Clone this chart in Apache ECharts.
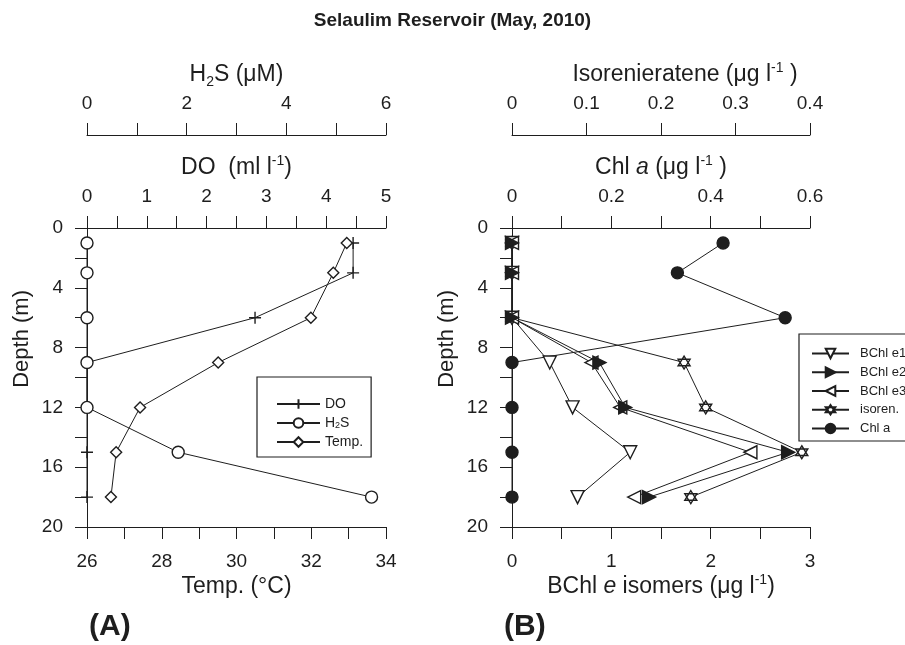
<!DOCTYPE html>
<html><head><meta charset="utf-8">
<script src="https://cdn.jsdelivr.net/npm/echarts@6/dist/echarts.min.js"></script>
<style>html,body{margin:0;padding:0;background:#fff}#c{width:905px;height:645px}</style>
</head><body><div id="c"></div>
<script>
// ---- data (depth in m) ----
const depths   = [1, 3, 6, 9, 12, 15, 18];
const doVals   = [4.45, 4.45, 2.81, 0, 0, 0, 0];           // ml/l
const h2sVals  = [0, 0, 0, 0, 0, 1.83, 5.71];              // uM
const tempVals = [32.95, 32.59, 31.99, 29.51, 27.42, 26.78, 26.64]; // deg C
const bchlE1   = [0, 0, 0, 0.38, 0.61, 1.19, 0.66];        // ug/l
const bchlE2   = [0, 0, 0, 0.88, 1.14, 2.78, 1.38];
const bchlE3   = [0, 0, 0, 0.80, 1.09, 2.40, 1.23];
const isoren   = [0, 0, 0, 0.231, 0.260, 0.389, 0.240];    // ug/l
const chlA     = [0.425, 0.333, 0.550, 0, 0, 0, 0];        // ug/l

const FONT = '"Liberation Sans", Arial, sans-serif';
const C = '#1e1e1e';

function pairs(vals){ return vals.map((v,i)=>[v, depths[i]]); }
function isMult(v, step){ const r = v/step; return Math.abs(r-Math.round(r)) < 1e-6; }
function fmt(v){ return String(Math.round(v*1000)/1000); }
function labF(step, base){ base = base||0; return v => isMult(v-base, step) ? fmt(v) : ''; }

const rich = {
  n:   {fontSize:23, fontFamily:FONT, color:C, lineHeight:28},
  i:   {fontSize:23, fontFamily:FONT, color:C, lineHeight:28, fontStyle:'italic'},
  sup: {fontSize:14, fontFamily:FONT, color:C, lineHeight:12, verticalAlign:'top'},
  sub: {fontSize:14, fontFamily:FONT, color:C, lineHeight:9, verticalAlign:'bottom'}
};

function xAx(o){
  const top = o.position === 'top';
  return {
    type:'value', gridIndex:o.grid, position:o.position, offset:o.offset||0,
    min:o.min, max:o.max, interval:o.interval,
    axisLine:{show:true, onZero:false, lineStyle:{color:C, width:1}},
    axisTick:{show:true, length:12, lineStyle:{color:C, width:1}},
    splitLine:{show:false},
    axisLabel:{color:C, fontSize:19, fontFamily:FONT, margin: top ? 22 : 25, formatter:o.fmt},
    name:o.name, nameLocation:'middle', nameGap:o.nameGap || 46,
    nameTextStyle:{color:C, fontSize:23, fontFamily:FONT, rich:rich, padding:o.namePad||0}
  };
}
function yAx(g){
  return {
    type:'value', gridIndex:g, inverse:true, min:0, max:20, interval:2,
    axisLine:{show:true, onZero:false, lineStyle:{color:C, width:1}},
    axisTick:{show:true, length:12, lineStyle:{color:C, width:1}},
    splitLine:{show:false},
    axisLabel:{color:C, fontSize:19, fontFamily:FONT, margin:24, formatter:labF(4)}
  };
}

const PLUS = 'path://M0,6L12,6M6,0L6,12';
const STAR = 'path://M6,0L11.196,9L0.804,9ZM6,12L0.804,3L11.196,3Z';

function ser(name, vals, xi, yi, sym, size, filled, rot, z){
  return {
    type:'line', name:name, xAxisIndex:xi, yAxisIndex:yi, data:pairs(vals),
    symbol:sym, symbolSize:size, symbolRotate:rot||0, showSymbol:true, clip:false,
    lineStyle:{color:C, width:1},
    itemStyle:{color: filled ? C : '#fff', borderColor:C, borderWidth:1.4},
    emphasis:{disabled:true}, z: z || 3
  };
}

const legendText = {color:C, fontSize:14, fontFamily:FONT,
  rich:{n:{fontSize:14, fontFamily:FONT, color:C}, s:{fontSize:9, fontFamily:FONT, color:C, lineHeight:6, verticalAlign:'bottom'}}};

const option = {
  animation:false,
  backgroundColor:'#fff',
  title:[
    {text:'Selaulim Reservoir (May, 2010)', left:'center', top:11, padding:0,
     textStyle:{fontSize:19, fontWeight:'bold', fontFamily:FONT, color:C}},
    {text:'(A)', left:89, top:612, padding:0, textStyle:{fontSize:30, fontWeight:'bold', fontFamily:FONT, color:C}},
    {text:'(B)', left:504, top:612, padding:0, textStyle:{fontSize:30, fontWeight:'bold', fontFamily:FONT, color:C}}
  ],
  grid:[
    {left:87, top:228, width:299, height:299, containLabel:false},
    {left:512, top:228, width:298, height:299, containLabel:false}
  ],
  xAxis:[
    xAx({grid:0, position:'bottom', min:26, max:34, interval:1, fmt:labF(2,26), name:'{n|Temp. (°C)}'}),
    xAx({grid:0, position:'top', min:0, max:5, interval:0.5, fmt:labF(1), name:'{n|DO  (ml l}{sup|-1}{n|)}'}),
    xAx({grid:0, position:'top', offset:93, min:0, max:6, interval:1, fmt:labF(2), name:'{n|H}{sub|2}{n|S (μM)}'}),
    xAx({grid:1, position:'bottom', min:0, max:3, interval:0.5, fmt:labF(1), name:'{n|BChl }{i|e}{n| isomers (μg l}{sup|-1}{n|)}'}),
    xAx({grid:1, position:'top', min:0, max:0.6, interval:0.1, fmt:labF(0.2), name:'{n|Chl }{i|a}{n| (μg l}{sup|-1}{n| )}'}),
    xAx({grid:1, position:'top', offset:93, min:0, max:0.4, interval:0.1, fmt:labF(0.1), name:'{n|Isorenieratene (μg l}{sup|-1}{n| )}', namePad:[0,0,0,48]})
  ],
  yAxis:[ yAx(0), yAx(1) ],
  legend:[
    {left:257, top:377, orient:'vertical', padding:[20,8,8,19], itemGap:5, itemWidth:43, itemHeight:12,
     borderColor:C, borderWidth:1.2, backgroundColor:'#fff', textStyle:legendText,
     data:['DO','H2S','Temp.'],
     formatter: n => n === 'H2S' ? '{n|H}{s|2}{n|S}' : '{n|' + n + '}'},
    {left:799, top:334, orient:'vertical', padding:[13,20,6,12], itemGap:5.75, itemWidth:37, itemHeight:12,
     borderColor:C, borderWidth:1.2, backgroundColor:'#fff', textStyle:{color:C, fontSize:13, fontFamily:FONT, padding:[0,0,0,6]},
     data:['BChl e1','BChl e2','BChl e3','isoren.','Chl a']}
  ],
  graphic:[
    {type:'text', left:11, top:290, rotation:Math.PI/2,
     style:{text:'Depth (m)', font:'22px ' + FONT, fill:C}},
    {type:'text', left:436, top:290, rotation:Math.PI/2,
     style:{text:'Depth (m)', font:'22px ' + FONT, fill:C}}
  ],
  series:[
    ser('DO', doVals, 1, 0, PLUS, 12, false),
    ser('H2S', h2sVals, 2, 0, 'circle', 12, false),
    ser('Temp.', tempVals, 0, 0, 'diamond', 11, false),
    ser('BChl e1', bchlE1, 3, 1, 'triangle', 13, false, 180, 3),
    ser('BChl e2', bchlE2, 3, 1, 'triangle', 13, true, -90, 5),
    ser('BChl e3', bchlE3, 3, 1, 'triangle', 13, false, 90, 4),
    ser('isoren.', isoren, 5, 1, STAR, [12,13], false, 0, 2),
    ser('Chl a', chlA, 4, 1, 'circle', 12, true, 0, 3)
  ]
};

const chart = echarts.init(document.getElementById('c'), null, {renderer:'canvas'});
chart.setOption(option);
</script>
</body></html>
